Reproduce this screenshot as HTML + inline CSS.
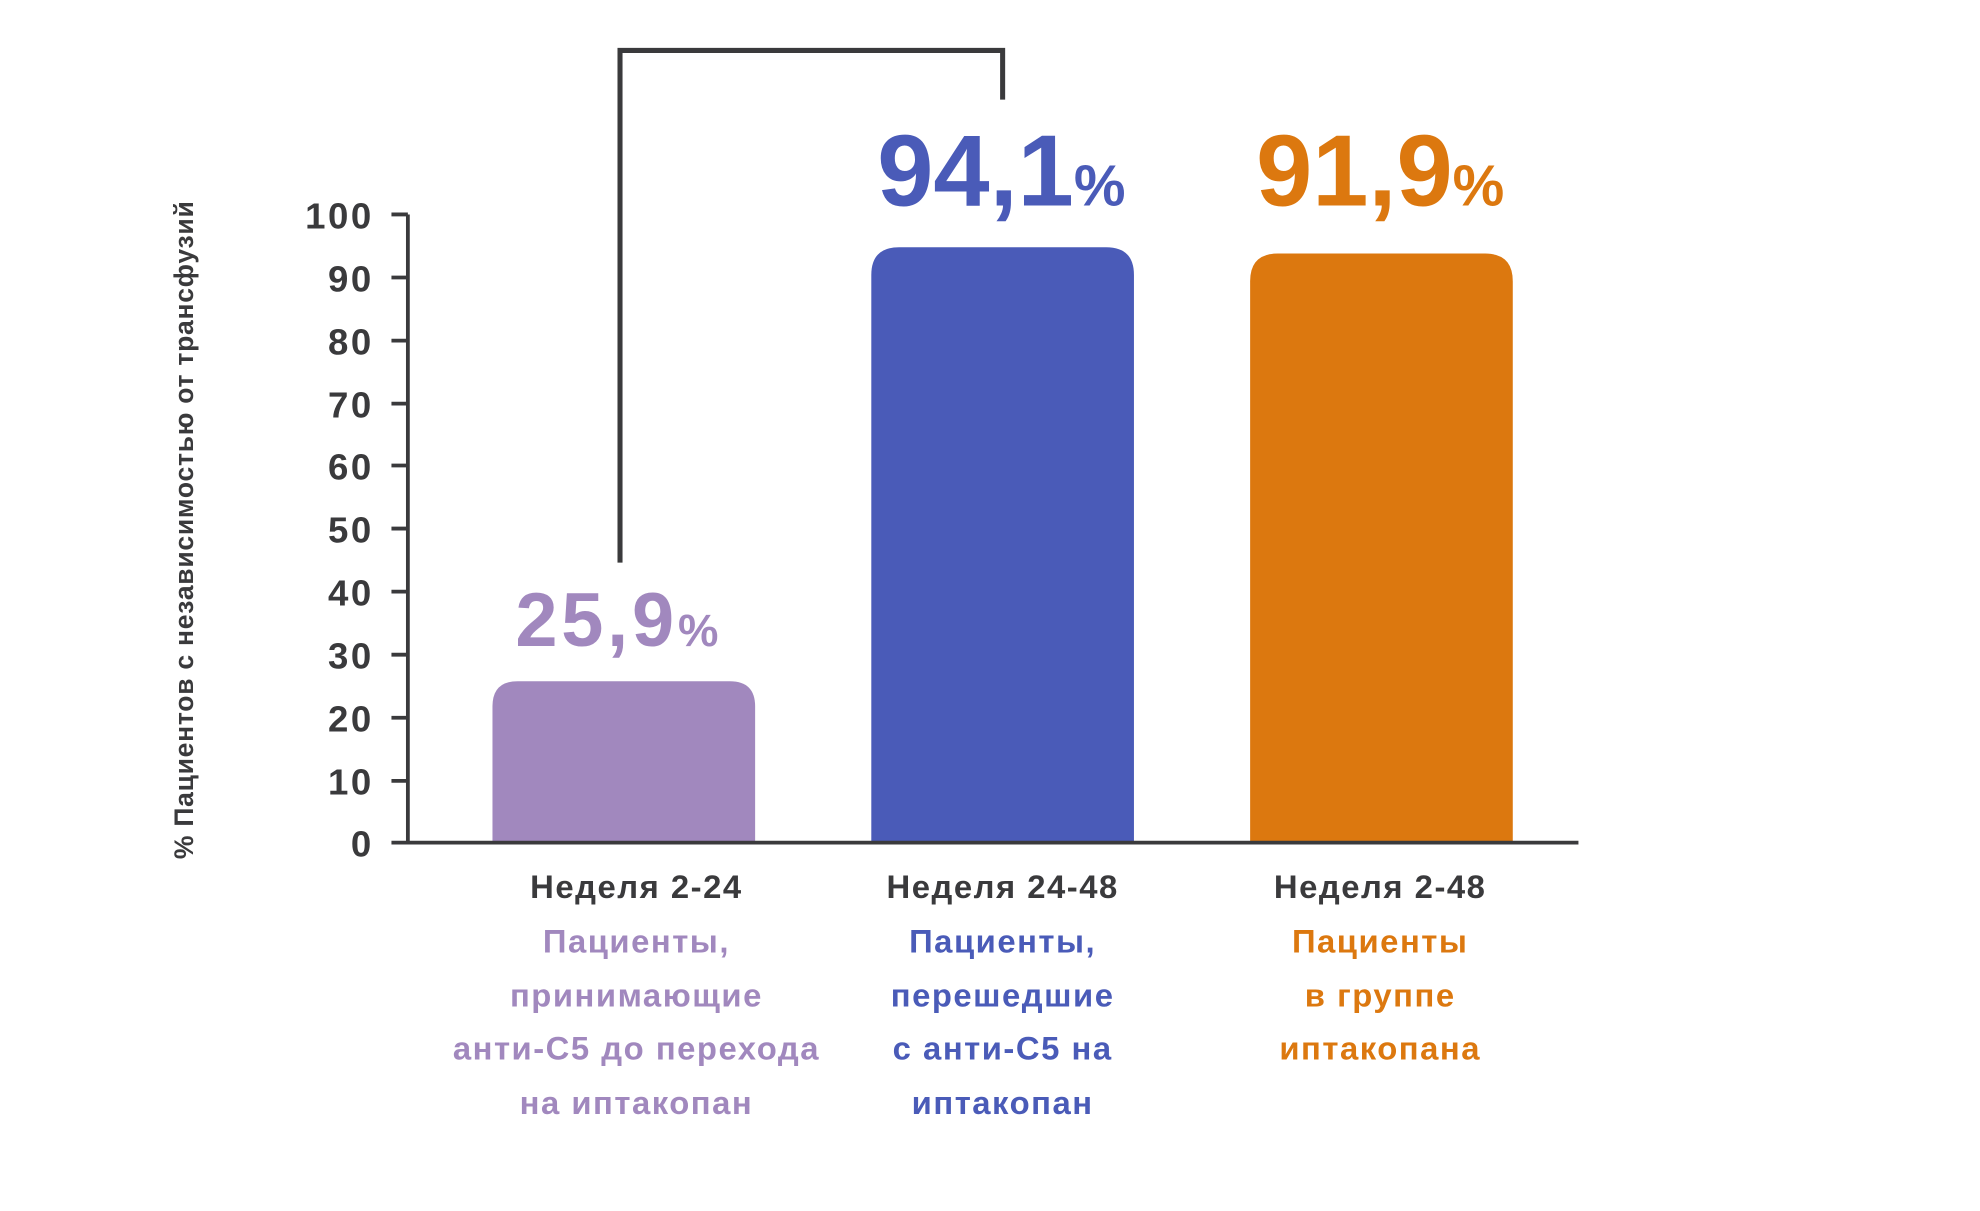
<!DOCTYPE html>
<html><head><meta charset="utf-8"><style>
html,body{margin:0;padding:0;background:#fff;}
svg{display:block;}
text{font-family:"Liberation Sans","DejaVu Sans",sans-serif;font-weight:bold;}
</style></head><body>
<svg width="1980" height="1211" viewBox="0 0 1568 960" preserveAspectRatio="none" xmlns="http://www.w3.org/2000/svg">
<rect width="1568" height="960" fill="#fff"/>
<polyline points="491,446 491,40 794,40 794,79" fill="none" stroke="#3a3a3c" stroke-width="4"/>
<path d="M390,668 V560 Q390,540 410,540 H578 Q598,540 598,560 V668 Z" fill="#a188be"/>
<path d="M690,668 V218 Q690,196 712,196 H876 Q898,196 898,218 V668 Z" fill="#4a5bb8"/>
<path d="M990,668 V223 Q990,201 1012,201 H1176 Q1198,201 1198,223 V668 Z" fill="#dc780f"/>
<line x1="323" y1="170" x2="323" y2="669" stroke="#3a3a3c" stroke-width="3"/>
<line x1="310" y1="668" x2="1250" y2="668" stroke="#3a3a3c" stroke-width="3"/>
<g stroke="#3a3a3c" stroke-width="3">
<line x1="310" y1="170" x2="323" y2="170"/><line x1="310" y1="220" x2="323" y2="220"/>
<line x1="310" y1="270" x2="323" y2="270"/><line x1="310" y1="320" x2="323" y2="320"/>
<line x1="310" y1="369" x2="323" y2="369"/><line x1="310" y1="419" x2="323" y2="419"/>
<line x1="310" y1="469" x2="323" y2="469"/><line x1="310" y1="519" x2="323" y2="519"/>
<line x1="310" y1="569" x2="323" y2="569"/><line x1="310" y1="619" x2="323" y2="619"/>
</g>
<g fill="#3a3a3c" font-size="29" text-anchor="end" letter-spacing="2">
<text x="296" y="181">100</text><text x="296" y="231">90</text><text x="296" y="281">80</text>
<text x="296" y="331">70</text><text x="296" y="380">60</text><text x="296" y="430">50</text>
<text x="296" y="480">40</text><text x="296" y="530">30</text><text x="296" y="580">20</text>
<text x="296" y="630">10</text><text x="296" y="679">0</text>
</g>
<text transform="translate(153,420) rotate(-90)" text-anchor="middle" font-size="21" letter-spacing="0.6" fill="#3a3a3c">% Пациентов с независимостью от трансфузий</text>
<text x="490" y="512" text-anchor="middle" font-size="60" letter-spacing="3" fill="#a188be">25,9<tspan font-size="36">%</tspan></text>
<text x="793" y="163" text-anchor="middle" font-size="80" fill="#4a5bb8">94,1<tspan font-size="46">%</tspan></text>
<text x="1093" y="163" text-anchor="middle" font-size="80" fill="#dc780f">91,9<tspan font-size="46">%</tspan></text>
<g font-size="26" text-anchor="middle" letter-spacing="1.2">
<text x="504" y="712" fill="#3a3a3c">Неделя 2-24</text>
<text x="794" y="712" fill="#3a3a3c">Неделя 24-48</text>
<text x="1093" y="712" fill="#3a3a3c">Неделя 2-48</text>
<g fill="#a188be">
<text x="504" y="755">Пациенты,</text><text x="504" y="798">принимающие</text>
<text x="504" y="840">анти-С5 до перехода</text><text x="504" y="883">на иптакопан</text>
</g>
<g fill="#4a5bb8">
<text x="794" y="755">Пациенты,</text><text x="794" y="798">перешедшие</text>
<text x="794" y="840">с анти-С5 на</text><text x="794" y="883">иптакопан</text>
</g>
<g fill="#dc780f">
<text x="1093" y="755">Пациенты</text><text x="1093" y="798">в группе</text>
<text x="1093" y="840">иптакопана</text>
</g>
</g>
</svg>
</body></html>
